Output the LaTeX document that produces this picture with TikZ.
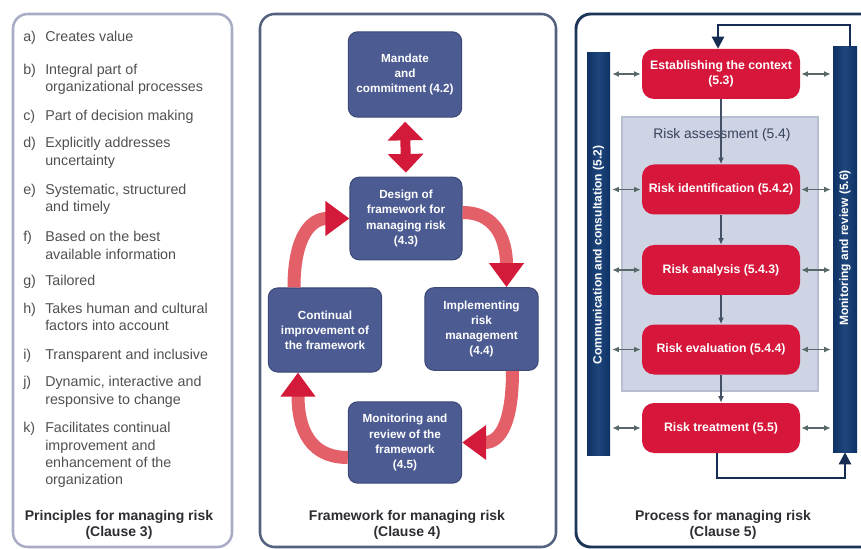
\documentclass[tikz,border=0pt]{standalone}
\usepackage{fontspec}
\setmainfont{Liberation Sans}
\usetikzlibrary{arrows.meta,calc}
\definecolor{panelA}{RGB}{168,172,196}
\definecolor{panelB}{RGB}{84,98,128}
\definecolor{panelC}{RGB}{28,52,88}
\definecolor{fwblue}{RGB}{76,92,146}
\definecolor{fwborder}{RGB}{60,74,120}
\definecolor{redbox}{RGB}{214,22,58}
\definecolor{redshaft}{RGB}{228,96,104}
\definecolor{redhead}{RGB}{212,26,58}
\definecolor{navybar}{RGB}{14,50,100}
\definecolor{navybarL}{RGB}{30,70,125}
\definecolor{graybox}{RGB}{206,212,228}
\definecolor{grayboxborder}{RGB}{184,190,210}
\definecolor{smallarrc}{RGB}{88,104,104}
\definecolor{vlinec}{RGB}{70,80,100}
\definecolor{looplinec}{RGB}{22,44,82}
\definecolor{textgray}{RGB}{80,80,80}
\definecolor{titlegray}{RGB}{45,45,50}
\definecolor{ratextc}{RGB}{55,65,90}
\begin{document}
\begin{tikzpicture}[x=0.75pt,y=-0.75pt,
  lbl/.style={anchor=mid west, inner sep=0pt, text=textgray, font=\fontsize{10.7pt}{12pt}\selectfont},
  paneltitle/.style={align=center, inner sep=0pt, text=titlegray, font=\fontsize{10.5pt}{12.2pt}\selectfont\bfseries},
  fwbox/.style={draw=fwborder, line width=0.8pt, fill=fwblue, rounded corners=7pt, text=white, align=center,
     inner sep=2pt, font=\fontsize{8.8pt}{11.3pt}\selectfont\bfseries},
  procbox/.style={fill=redbox, rounded corners=9pt, text=white, align=center, inner sep=2pt,
     minimum width=118.5pt, minimum height=37.5pt, font=\fontsize{9.2pt}{11.3pt}\selectfont\bfseries},
  barbox/.style={left color=navybar, right color=navybar, middle color=navybarL, inner sep=0pt},
  bartext/.style={text=white, inner sep=0pt, font=\fontsize{9pt}{11pt}\selectfont\bfseries},
  redcurve/.style={line width=9.75pt, draw=redshaft, -{Triangle[width=25pt,length=18pt,color=redhead]}},
  reddouble/.style={line width=7.5pt, draw=redhead, {Triangle[width=26pt,length=14pt,color=redhead]}-{Triangle[width=26pt,length=14pt,color=redhead]}, shorten <=3pt, shorten >=3pt},
  smallarr/.style={draw=smallarrc, line width=1.1pt, {Latex[length=5pt,width=4.5pt]}-{Latex[length=5pt,width=4.5pt]}},
  vline/.style={draw=vlinec, line width=0.9pt, -{Latex[length=5pt,width=4.5pt]}},
  loopline/.style={draw=looplinec, line width=1.8pt, -{Triangle[length=9pt,width=9pt]}}
]
\clip (0,0) rectangle (861,549);
\fill[white] (0,0) rectangle (861,549);

% ---------- panels ----------
\draw[panelA, line width=1.9pt, rounded corners=11pt] (13,14) rectangle (232,547);
\draw[panelB, line width=1.9pt, rounded corners=11pt] (260,14) rectangle (556,547);
\draw[panelC, line width=2.2pt, rounded corners=11pt] (576,14) rectangle (880,547);

% ---------- principles ----------
\node[lbl] (la) at (23,38) {a)};  \node[lbl] (ta) at (45,38) {Creates value};
\node[lbl] (lb) at (23,71) {b)};  \node[lbl] (tb) at (45,71) {Integral part of};
\node[lbl] (tb2) at (45,88) {organizational processes};
\node[lbl] (lc) at (23,117) {c)}; \node[lbl] (tc) at (45,117) {Part of decision making};
\node[lbl] (ld) at (23,144) {d)}; \node[lbl] (td) at (45,144) {Explicitly addresses};
\node[lbl] (td2) at (45,162) {uncertainty};
\node[lbl] (le) at (23,191) {e)}; \node[lbl] (te) at (45,191) {Systematic, structured};
\node[lbl] (te2) at (45,208) {and timely};
\node[lbl] (lf) at (23,238) {f)}; \node[lbl] (tf) at (45,238) {Based on the best};
\node[lbl] (tf2) at (45,256) {available information};
\node[lbl] (lg) at (23,282) {g)}; \node[lbl] (tg) at (45,282) {Tailored};
\node[lbl] (lh) at (23,310) {h)}; \node[lbl] (th) at (45,310) {Takes human and cultural};
\node[lbl] (th2) at (45,327) {factors into account};
\node[lbl] (li) at (23,356) {i)};  \node[lbl] (ti) at (45,356) {Transparent and inclusive};
\node[lbl] (lj) at (23,383) {j)};  \node[lbl] (tj) at (45,383) {Dynamic, interactive and};
\node[lbl] (tj2) at (45,401) {responsive to change};
\node[lbl] (lk) at (23,429) {k)};  \node[lbl] (tk) at (45,429) {Facilitates continual};
\node[lbl] (tk2) at (45,447) {improvement and};
\node[lbl] (tk3) at (45,464) {enhancement of the};
\node[lbl] (tk4) at (45,481) {organization};
\node[paneltitle] (title1) at (119,525) {Principles for managing risk\\(Clause 3)};

% ---------- framework ----------
\node[fwbox, minimum width=85pt, minimum height=64pt] (mandate) at (405,74.5) {Mandate\\and\\commitment (4.2)};
\node[fwbox, minimum width=84pt, minimum height=62pt] (design) at (406,218.5) {Design of\\framework for\\managing risk\\(4.3)};
\node[fwbox, minimum width=85pt, minimum height=63pt] (continual) at (325,330) {Continual\\improvement of\\the framework};
\node[fwbox, minimum width=85pt, minimum height=62pt] (implementing) at (481.5,329) {Implementing\\risk\\management\\(4.4)};
\node[fwbox, minimum width=85pt, minimum height=61pt] (monitoring) at (405,442.5) {Monitoring and\\review of the\\framework\\(4.5)};

\draw[reddouble] (mandate.south) -- (design.north);
\draw[redcurve] ($(design.east)+(0,-6)$) .. controls +(38,0) and +(0,-40) .. ($(implementing.north)+(25,0)$);
\draw[redcurve] ($(implementing.south)+(31,0)$) .. controls +(0,52) and +(38,0) .. (monitoring.east);
\draw[redcurve] ($(monitoring.west)+(0,15)$) .. controls +(-45,0) and +(0,45) .. ($(continual.south)+(-27,0)$);
\draw[redcurve] ($(continual.north)+(-31,0)$) .. controls +(0,-52) and +(-38,0) .. (design.west);

\node[paneltitle] (title2) at (407,525) {Framework for managing risk\\(Clause 4)};

% ---------- process ----------
\node[fill=graybox, draw=grayboxborder, line width=0.8pt, minimum width=147pt, minimum height=205.5pt, inner sep=0pt] (assess) at (720,254) {};
\node[text=ratextc, inner sep=0pt, font=\fontsize{10.4pt}{12pt}\selectfont] (ratext) at (722,135) {Risk assessment (5.4)};

\node[barbox, minimum width=17.25pt, minimum height=301.5pt] (commbar) at (598.5,254) {};
\node[barbox, minimum width=18pt, minimum height=303.75pt] (monbar) at (845,249.5) {};
\node[bartext, rotate=90] (commtext) at (598.5,255) {Communication and consultation (5.2)};
\node[bartext, rotate=90] (montext) at (845,248) {Monitoring and review (5.6)};

\node[procbox] (est) at (721,74) {Establishing the context\\(5.3)};
\node[procbox] (rid) at (721,189.5) {Risk identification (5.4.2)};
\node[procbox] (ran) at (721,270) {Risk analysis (5.4.3)};
\node[procbox] (rev) at (721,349.5) {Risk evaluation (5.4.4)};
\node[procbox] (rtr) at (721,428) {Risk treatment (5.5)};

\draw[vline] (est) -- (rid);
\draw[vline] (rid) -- (ran);
\draw[vline] (ran) -- (rev);
\draw[vline] (rev) -- (rtr);

\foreach \n in {est,rid,ran,rev,rtr}{
  \draw[smallarr] ($(commbar.east |- \n.west)+(2,0)$) -- ($(\n.west)+(-1,0)$);
  \draw[smallarr] ($(\n.east)+(1,0)$) -- ($(monbar.west |- \n.east)+(-2,0)$);
}

\draw[loopline] ($(monbar.north)+(5,0)$) -- ++(0,-22) -| ($(est.north)+(-3,0)$);
\draw[loopline] ($(rtr.south)+(-4,0)$) -- ++(0,25) -| (monbar.south);

\node[paneltitle] (title3) at (723,525) {Process for managing risk\\(Clause 5)};
\end{tikzpicture}
\end{document}
